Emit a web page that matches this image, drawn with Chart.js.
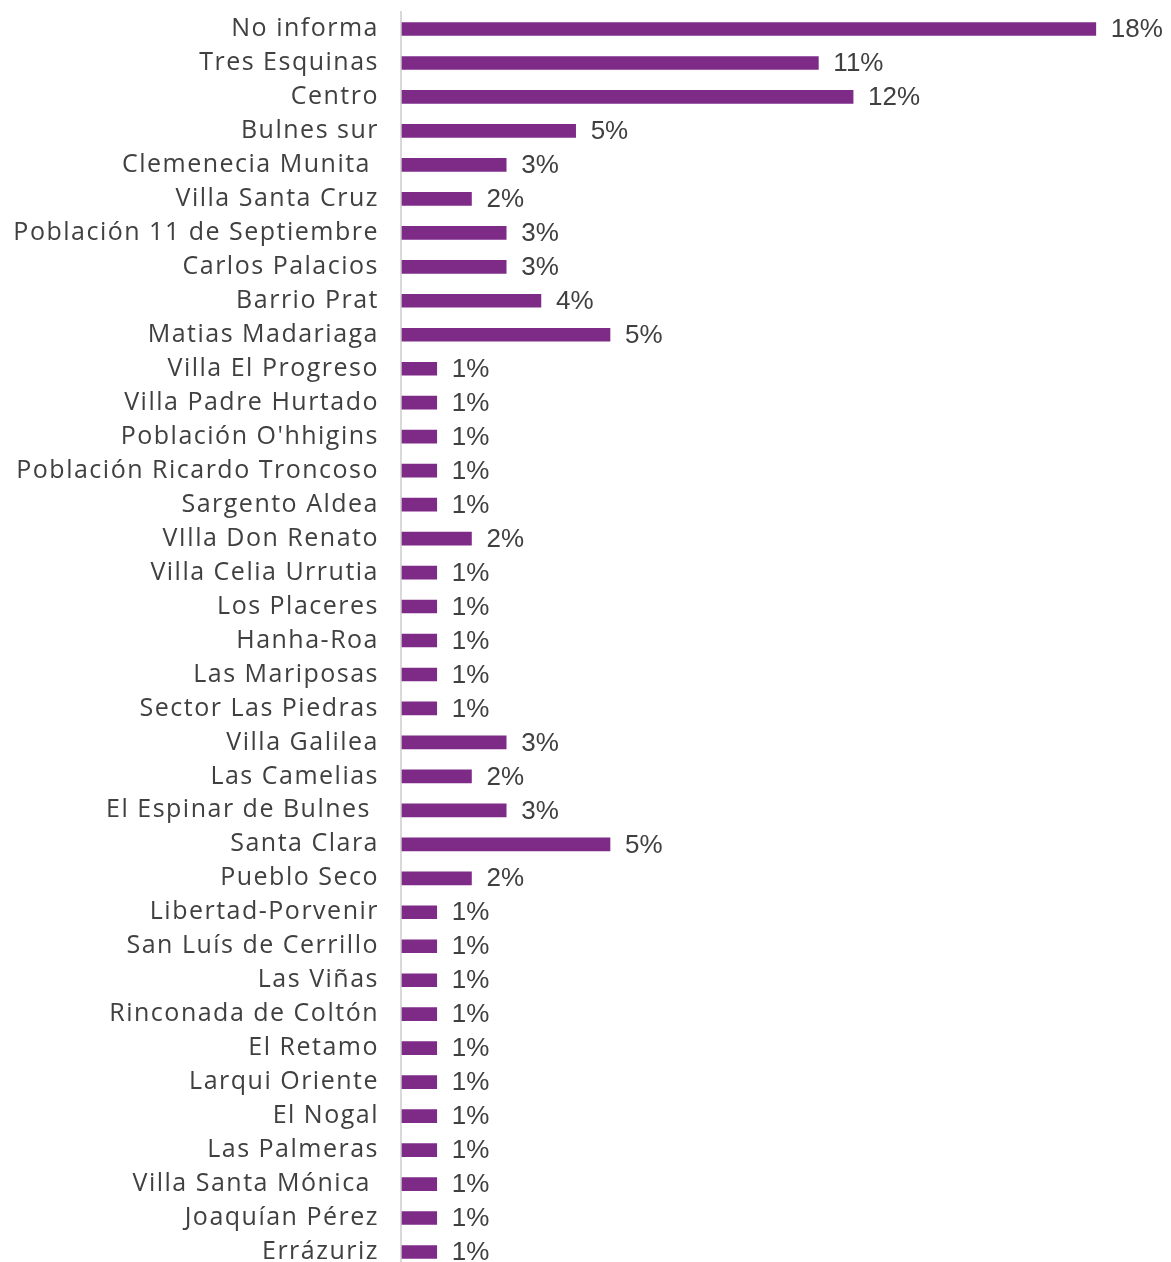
<!DOCTYPE html>
<html>
<head>
<meta charset="utf-8">
<script src="https://cdn.jsdelivr.net/npm/chart.js@4/dist/chart.umd.min.js"></script>
<style>
  html, body { margin: 0; padding: 0; background: #fff; }
  #wrap { width: 1171px; height: 1262px; position: relative; }
</style>
</head>
<body>
<div id="wrap"><canvas id="chart"></canvas></div>
<script>
// sectores, de arriba hacia abajo
const sectores = [
    "No informa", "Tres Esquinas", "Centro", "Bulnes sur", "Clemenecia Munita ",
    "Villa Santa Cruz", "Población 11 de Septiembre", "Carlos Palacios", "Barrio Prat",
    "Matias Madariaga", "Villa El Progreso", "Villa Padre Hurtado", "Población O'hhigins",
    "Población Ricardo Troncoso", "Sargento Aldea", "VIlla Don Renato", "Villa Celia Urrutia",
    "Los Placeres", "Hanha-Roa", "Las Mariposas", "Sector Las Piedras", "Villa Galilea",
    "Las Camelias", "El Espinar de Bulnes ", "Santa Clara", "Pueblo Seco", "Libertad-Porvenir",
    "San Luís de Cerrillo", "Las Viñas", "Rinconada de Coltón", "El Retamo", "Larqui Oriente",
    "El Nogal", "Las Palmeras", "Villa Santa Mónica ", "Joaquían Pérez", "Errázuriz"
];

const porcentajes = [
    18.18, 10.91, 11.82, 4.55, 2.73,
    1.82, 2.73, 2.73, 3.64,
    5.45, 0.91, 0.91, 0.91,
    0.91, 0.91, 1.82, 0.91,
    0.91, 0.91, 0.91, 0.91, 2.73,
    1.82, 2.73, 5.45, 1.82, 0.91,
    0.91, 0.91, 0.91, 0.91, 0.91,
    0.91, 0.91, 0.91, 0.91, 0.91
];

const colorBarra = '#7e2b88';
const colorTexto = '#404040';

// espaciado de letras para los nombres (el original usa una fuente ancha)
const espaciado = {
    id: 'espaciado',
    beforeLayout(chart) { chart.ctx.letterSpacing = '1.5px'; },
    beforeDraw(chart) { chart.ctx.letterSpacing = '1.5px'; }
};

// etiquetas de valor al final de cada barra
const etiquetasValor = {
    id: 'etiquetasValor',
    afterDatasetsDraw(chart) {
        const ctx = chart.ctx;
        const meta = chart.getDatasetMeta(0);
        ctx.save();
        ctx.letterSpacing = '0px';
        ctx.font = '26px "Liberation Sans", Arial, sans-serif';
        ctx.fillStyle = colorTexto;
        ctx.textAlign = 'left';
        ctx.textBaseline = 'middle';
        meta.data.forEach((bar, i) => {
            const v = chart.data.datasets[0].data[i];
            ctx.fillText(Math.round(v) + '%', bar.x + 15, bar.y + 1);
        });
        ctx.restore();
    }
};

// linea del eje vertical
const lineaEje = {
    id: 'lineaEje',
    beforeDatasetsDraw(chart) {
        const ctx = chart.ctx;
        const x = chart.chartArea.left - 1;
        ctx.save();
        ctx.strokeStyle = '#d9d9d9';
        ctx.lineWidth = 2;
        ctx.beginPath();
        ctx.moveTo(x, 11);
        ctx.lineTo(x, chart.height);
        ctx.stroke();
        ctx.restore();
    }
};

const barChart = new Chart(document.getElementById('chart'), {
    type: 'bar',
    data: {
        labels: sectores,
        datasets: [{
            data: porcentajes,
            backgroundColor: colorBarra,
            barThickness: 13,
            clip: false
        }]
    },
    options: {
        indexAxis: 'y',
        responsive: true,
        maintainAspectRatio: false,
        animation: false,
        layout: { padding: { top: 29, bottom: 10, left: 0, right: 0 } },
        plugins: {
            legend: { display: false },
            tooltip: { enabled: false }
        },
        scales: {
            x: {
                display: false,
                min: 0,
                max: 20.15
            },
            y: {
                offset: false,
                grid: { display: false, drawTicks: false },
                border: { display: false },
                afterFit(scale) {
                    scale.width = 402;
                    scale.paddingTop = 0;
                    scale.paddingBottom = 0;
                },
                ticks: {
                    autoSkip: false,
                    padding: 23,
                    color: colorTexto,
                    font: { family: '"Open Sans", sans-serif', size: 25 }
                }
            }
        }
    },
    plugins: [espaciado, lineaEje, etiquetasValor]
});
</script>
</body>
</html>
